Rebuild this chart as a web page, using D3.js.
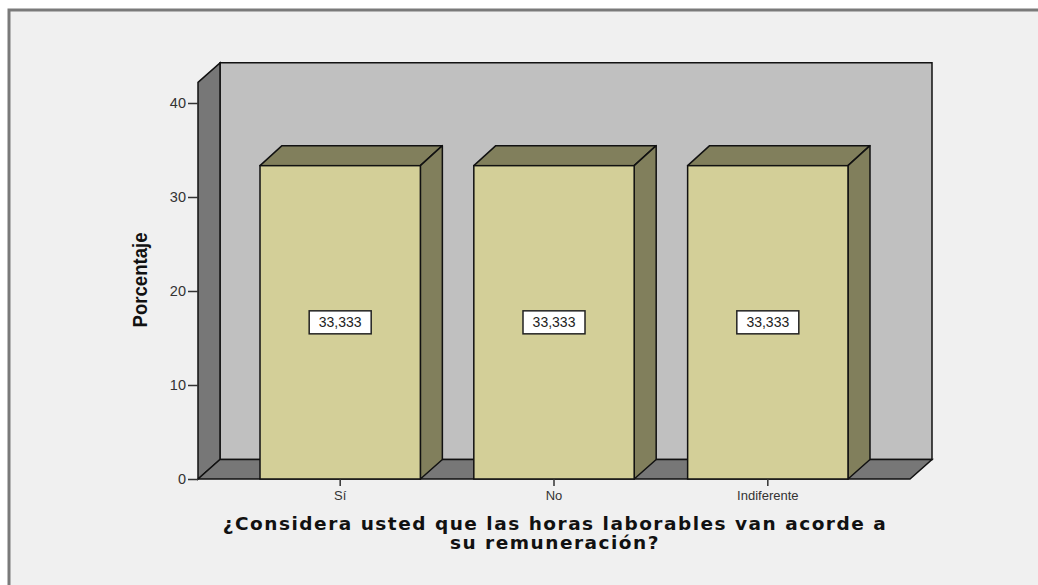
<!DOCTYPE html>
<html>
<head>
<meta charset="utf-8">
<script src="https://cdn.jsdelivr.net/npm/d3@7"></script>
<style>
  html, body { margin: 0; padding: 0; background: #ffffff; }
  svg { display: block; }
</style>
</head>
<body>
<div id="chart"></div>
<script>
(function () {
  // Chart data
  var categories = ["Sí", "No", "Indiferente"];
  var percentages = [33.333, 33.333, 33.333];
  var yTicks = [0, 10, 20, 30, 40];
  var yLabel = "Porcentaje";
  var titleLines = ["¿Considera usted que las horas laborables van acorde a", "su remuneración?"];

  var width = 1038, height = 585;

  // Depth of the 3D effect
  var dx = 22, dy = -19.5;

  var svg = d3.select("#chart").append("svg")
    .attr("width", width)
    .attr("height", height);

  // Outer frame
  svg.append("rect")
    .attr("x", 9).attr("y", 10)
    .attr("width", width + 10).attr("height", height + 10)
    .attr("fill", "#f0f0f0")
    .attr("stroke", "#7a7a7a")
    .attr("stroke-width", 3);

  // Scales
  var x = d3.scaleBand()
    .domain(categories)
    .range([198, 910])
    .paddingInner(0.25)
    .paddingOuter(0.29);

  var y = d3.scaleLinear()
    .domain([0, 40])
    .range([479, 103]);

  var yTop = y(42.2);
  var x0 = 198, x1 = 910, y0 = y(0);

  function pts(arr) { return arr.map(function (p) { return p.join(","); }).join(" "); }

  var walls = svg.append("g");

  // Back wall
  walls.append("polygon")
    .attr("points", pts([[x0 + dx, yTop + dy], [x1 + dx, yTop + dy], [x1 + dx, y0 + dy], [x0 + dx, y0 + dy]]))
    .attr("fill", "#c0c0c0").attr("stroke", "#111").attr("stroke-width", 1.5);

  // Left wall
  walls.append("polygon")
    .attr("points", pts([[x0, yTop], [x0 + dx, yTop + dy], [x0 + dx, y0 + dy], [x0, y0]]))
    .attr("fill", "#777777").attr("stroke", "#111").attr("stroke-width", 1.5);

  // Floor
  walls.append("polygon")
    .attr("points", pts([[x0, y0], [x0 + dx, y0 + dy], [x1 + dx, y0 + dy], [x1, y0]]))
    .attr("fill", "#777777").attr("stroke", "#111").attr("stroke-width", 1.5);

  // Bars
  var bars = svg.append("g").selectAll("g")
    .data(categories)
    .enter().append("g");

  var bdx = 22, bdy = -20;

  bars.append("polygon")
    .attr("points", function (d, i) {
      var l = x(d), r = x(d) + x.bandwidth(), t = y(percentages[i]);
      return pts([[l, t], [l + bdx, t + bdy], [r + bdx, t + bdy], [r, t]]);
    })
    .attr("fill", "#817f5c").attr("stroke", "#111").attr("stroke-width", 1.5).attr("stroke-linejoin", "round");

  bars.append("polygon")
    .attr("points", function (d, i) {
      var r = x(d) + x.bandwidth(), t = y(percentages[i]);
      return pts([[r, t], [r + bdx, t + bdy], [r + bdx, y0 + dy], [r, y0]]);
    })
    .attr("fill", "#817f5c").attr("stroke", "#111").attr("stroke-width", 1.5).attr("stroke-linejoin", "round");

  bars.append("rect")
    .attr("x", function (d) { return x(d); })
    .attr("y", function (d, i) { return y(percentages[i]); })
    .attr("width", x.bandwidth())
    .attr("height", function (d, i) { return y0 - y(percentages[i]); })
    .attr("fill", "#d3cf98").attr("stroke", "#111").attr("stroke-width", 1.5);

  // Value labels
  var fmt = function (v) { return d3.format(".3f")(v).replace(".", ","); };
  var labels = bars.append("g")
    .attr("transform", function (d, i) {
      return "translate(" + (x(d) + x.bandwidth() / 2) + "," + y(percentages[i] / 2) + ")";
    });
  labels.append("rect")
    .attr("x", -31).attr("y", -11.5)
    .attr("width", 62).attr("height", 23)
    .attr("fill", "#ffffff").attr("stroke", "#222").attr("stroke-width", 1.5);
  labels.append("text")
    .attr("text-anchor", "middle")
    .attr("dy", "0.35em")
    .attr("font-family", "Liberation Sans, Arial, sans-serif")
    .attr("font-size", 14)
    .attr("fill", "#222")
    .text(function (d, i) { return fmt(percentages[i]); });

  // Y axis
  var yAxis = svg.append("g")
    .attr("transform", "translate(" + x0 + ",0)")
    .call(d3.axisLeft(y).tickValues(yTicks).tickSize(10).tickPadding(2));
  yAxis.select(".domain").remove();
  yAxis.selectAll("line").attr("stroke", "#333").attr("stroke-width", 1.5);
  yAxis.selectAll("text")
    .attr("font-family", "Liberation Sans, Arial, sans-serif")
    .attr("font-size", 14.5)
    .attr("fill", "#333");

  // X axis
  var xAxis = svg.append("g")
    .attr("transform", "translate(0," + y0 + ")")
    .call(d3.axisBottom(x).tickSize(7).tickPadding(5));
  xAxis.select(".domain").remove();
  xAxis.selectAll("line").attr("stroke", "#333").attr("stroke-width", 1.5);
  xAxis.selectAll("text")
    .attr("font-family", "Liberation Sans, Arial, sans-serif")
    .attr("font-size", 13)
    .attr("fill", "#333");

  // Y axis label (condensed bold)
  svg.append("text")
    .attr("transform", "translate(147,280) rotate(-90)")
    .attr("text-anchor", "middle")
    .attr("font-family", "Liberation Sans Narrow, Arial Narrow, Liberation Sans, sans-serif")
    .attr("font-weight", "bold")
    .attr("font-size", 20)
    .attr("textLength", 95)
    .attr("lengthAdjust", "spacingAndGlyphs")
    .attr("fill", "#111")
    .text(yLabel);

  // Title
  svg.append("g").selectAll("text")
    .data(titleLines)
    .enter().append("text")
    .attr("x", 555)
    .attr("y", function (d, i) { return 530 + i * 19; })
    .attr("text-anchor", "middle")
    .attr("font-family", "DejaVu Sans, Verdana, sans-serif")
    .attr("font-weight", "bold")
    .attr("font-size", 18.5)
    .attr("letter-spacing", 1.5)
    .attr("fill", "#111")
    .text(function (d) { return d; });
})();
</script>
</body>
</html>
